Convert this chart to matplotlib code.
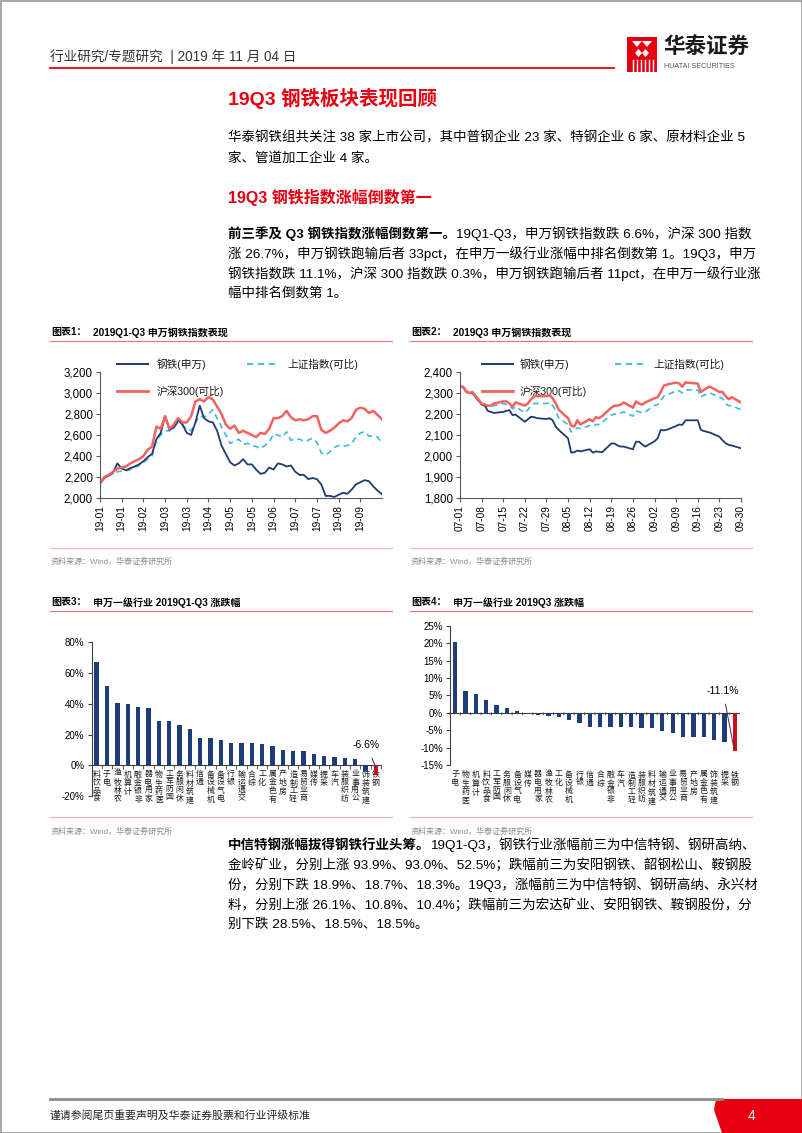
import datetime as dt
import numpy as np
import matplotlib
matplotlib.use('Agg')
import matplotlib.pyplot as plt
from matplotlib.patches import Rectangle, Polygon
from matplotlib.lines import Line2D

# ---------------- data ----------------
# Chart 1: 2019Q1-Q3 index performance (sampled every ~3 trading days)
c1_ticklabels = ['19-01', '19-01', '19-02', '19-03', '19-03', '19-04', '19-05',
                 '19-05', '19-06', '19-07', '19-07', '19-08', '19-09']
c1_steel = [2140, 2190, 2215, 2240, 2330, 2280, 2265, 2285, 2300, 2320, 2350, 2390, 2420,
            2560, 2620, 2780, 2650, 2670, 2740, 2700, 2620, 2600, 2720, 2880, 2760, 2730,
            2720, 2640, 2500, 2420, 2340, 2310, 2330, 2370, 2320, 2320, 2270, 2230, 2240,
            2290, 2270, 2330, 2320, 2300, 2310, 2250, 2220, 2220, 2180, 2190, 2180, 2130,
            2020, 2020, 2010, 2030, 2050, 2040, 2080, 2130, 2150, 2170, 2160, 2110, 2070, 2035]
c1_sh = [2140, 2190, 2210, 2230, 2250, 2255, 2260, 2270, 2290, 2310, 2340, 2370, 2400,
         2550, 2600, 2640, 2640, 2670, 2720, 2700, 2650, 2640, 2720, 2780, 2770, 2800,
         2840, 2760, 2680, 2600, 2520, 2540, 2560, 2510, 2520, 2500, 2490, 2470, 2500,
         2530, 2610, 2600, 2580, 2630, 2550, 2560, 2560, 2540, 2550, 2570, 2530, 2430,
         2410, 2440, 2480, 2500, 2490, 2500, 2520, 2580, 2620, 2630, 2590, 2590, 2580, 2520]
c1_hs = [2140, 2200, 2220, 2250, 2280, 2290, 2300, 2330, 2350, 2370, 2400, 2460, 2490,
         2680, 2660, 2780, 2660, 2700, 2760, 2720, 2720, 2780, 2920, 2940, 2920, 2960,
         2940, 2870, 2800, 2700, 2660, 2690, 2620, 2640, 2620, 2600, 2580, 2620, 2610,
         2660, 2760, 2760, 2780, 2830, 2770, 2740, 2750, 2740, 2750, 2780, 2780, 2650,
         2620, 2640, 2670, 2710, 2740, 2730, 2760, 2840, 2860, 2850, 2810, 2830, 2790, 2750]

# Chart 2: 2019Q3 daily
q3_dates = ['07-01', '07-02', '07-03', '07-04', '07-05', '07-08', '07-09', '07-10', '07-11',
            '07-12', '07-15', '07-16', '07-17', '07-18', '07-19', '07-22', '07-23', '07-24',
            '07-25', '07-26', '07-29', '07-30', '07-31', '08-01', '08-02', '08-05', '08-06',
            '08-07', '08-08', '08-09', '08-12', '08-13', '08-14', '08-15', '08-16', '08-19',
            '08-20', '08-21', '08-22', '08-23', '08-26', '08-27', '08-28', '08-29', '08-30',
            '09-02', '09-03', '09-04', '09-05', '09-06', '09-09', '09-10', '09-11', '09-12',
            '09-16', '09-17', '09-18', '09-19', '09-20', '09-23', '09-24', '09-25', '09-26',
            '09-27', '09-30']
c2_steel = [2330, 2330, 2310, 2300, 2300, 2245, 2240, 2215, 2210, 2205, 2210, 2215, 2218,
            2195, 2197, 2163, 2175, 2187, 2185, 2180, 2176, 2180, 2170,
            2140, 2124, 2084, 2016, 2018, 2026, 2022, 2032, 2016, 2022, 2020, 2018, 2059,
            2060, 2050, 2045, 2045, 2032, 2068, 2068, 2055, 2045,
            2070, 2084, 2124, 2122, 2125, 2143, 2150, 2148, 2170, 2170, 2124, 2119, 2115,
            2111, 2092, 2075, 2061, 2053, 2050, 2037]
c2_sh = [2330, 2325, 2305, 2300, 2300, 2245, 2240, 2235, 2235, 2240, 2250, 2245, 2240,
         2225, 2235, 2205, 2220, 2240, 2250, 2250, 2250, 2255, 2240,
         2215, 2180, 2150, 2115, 2120, 2135, 2130, 2145, 2140, 2150, 2150, 2160, 2195,
         2200, 2200, 2205, 2210, 2190, 2215, 2210, 2205, 2210,
         2240, 2245, 2265, 2285, 2290, 2310, 2310, 2300, 2315, 2315, 2280, 2290, 2295,
         2300, 2280, 2275, 2250, 2240, 2240, 2220]
c2_hs = [2330, 2330, 2305, 2300, 2305, 2250, 2245, 2240, 2240, 2250, 2260, 2260, 2250,
         2235, 2255, 2240, 2250, 2270, 2285, 2285, 2285, 2290, 2275,
         2250, 2220, 2180, 2145, 2140, 2170, 2150, 2175, 2165, 2185, 2180, 2190, 2230,
         2240, 2240, 2245, 2255, 2230, 2260, 2250, 2245, 2255,
         2275, 2280, 2305, 2335, 2340, 2350, 2345, 2330, 2350, 2345, 2305, 2315, 2325,
         2330, 2305, 2305, 2285, 2270, 2280, 2255]
c2_ticklabels = ['07-01', '07-08', '07-15', '07-22', '07-29', '08-05', '08-12', '08-19',
                 '08-26', '09-02', '09-09', '09-16', '09-23', '09-30']

# Chart 3: 2019Q1-Q3 industry change (%)
cat3 = ['食品饮料', '电子', '农林牧渔', '计算机', '非银金融', '家用电器', '医药生物', '国防军工',
        '休闲服务', '建筑材料', '通信', '机械设备', '电气设备', '银行', '交通运输', '综合', '化工',
        '有色金属', '房地产', '轻工制造', '商业贸易', '传媒', '采掘', '汽车', '纺织服装', '公用事业',
        '建筑装饰', '钢铁']
val3 = [67.2, 51.5, 40.7, 40.0, 38.0, 37.2, 29.1, 28.5, 26.1, 23.7, 18.0, 17.6, 16.3, 14.6,
        14.6, 14.3, 13.9, 12.4, 10.2, 9.3, 9.1, 7.4, 6.1, 5.4, 4.6, 4.3, -3.5, -6.6]

# Chart 4: 2019Q3 industry change (%)
cat4 = ['电子', '医药生物', '计算机', '食品饮料', '国防军工', '休闲服务', '电气设备', '传媒',
        '家用电器', '农林牧渔', '化工', '机械设备', '银行', '通信', '综合', '非银金融', '汽车',
        '轻工制造', '纺织服装', '建筑材料', '交通运输', '公用事业', '商业贸易', '房地产', '有色金属',
        '建筑装饰', '采掘', '钢铁']
val4 = [20.2, 6.3, 5.3, 3.6, 2.1, 1.5, 0.5, -0.2, -0.5, -1.0, -1.3, -2.1, -3.0, -4.0, -4.1,
        -4.1, -4.1, -4.2, -4.3, -4.5, -5.2, -5.9, -6.9, -7.0, -7.1, -7.7, -8.3, -11.1]

# ---------------- styling ----------------
W, H = 802, 1133
FAM = ['Liberation Sans', 'Noto Sans CJK SC']
plt.rcParams['font.family'] = FAM
plt.rcParams['axes.unicode_minus'] = False
RED = '#E60012'
NAVY = '#1F3A73'
CYAN = '#3DB7E4'
SALMON = '#F2625E'
BARBLUE = '#1E3C7C'
BARRED = '#C8101E'
AXC = '#595959'
BODY = 9.7

fig = plt.figure(figsize=(W / 100, H / 100), dpi=100)
page = fig.add_axes([0, 0, 1, 1], zorder=0)
page.set_xlim(0, W)
page.set_ylim(H, 0)
page.axis('off')
renderer = fig.canvas.get_renderer()


def axes_px(x0, y0, x1, y1):
    a = fig.add_axes([x0 / W, 1 - y1 / H, (x1 - x0) / W, (y1 - y0) / H], zorder=2)
    a.patch.set_alpha(0)
    return a


def runs(x, y, parts, size=BODY, color='black'):
    for txt, bold in parts:
        t = page.text(x, y, txt, fontsize=size, fontweight='bold' if bold else 'normal',
                      ha='left', va='center', color=color, family=FAM)
        x += t.get_window_extent(renderer=renderer).width


def vert(s):
    return '\n'.join(reversed(s))


# ---------------- page frame / header ----------------
page.add_patch(Rectangle((0.5, 0.5), W - 1, H - 1, fill=False, ec='#9A9A9A', lw=1.2))
page.text(50, 57, '行业研究/专题研究  | 2019 年 11 月 04 日', fontsize=9.8, ha='left', va='center',
          color='#333333')
page.plot([50, 614], [67.5, 67.5], color=RED, lw=1.3)
# logo
page.add_patch(Rectangle((627, 37), 30, 35, color=RED, lw=0))
page.add_patch(Polygon([[632, 41], [637, 47], [642, 41]], closed=True, color='white', lw=0))
page.add_patch(Polygon([[642, 41], [647, 47], [652, 41]], closed=True, color='white', lw=0))
page.add_patch(Polygon([[635, 53], [638.5, 49], [642, 53], [638.5, 57]], closed=True, color='white', lw=0))
page.add_patch(Polygon([[642, 53], [645.5, 49], [649, 53], [645.5, 57]], closed=True, color='white', lw=0))
for xs in [633, 637, 641, 645, 649, 653]:
    page.plot([xs, xs], [60, 72], color='white', lw=1.0)
page.text(663, 47, '华泰证券', fontsize=15.5, fontweight='bold', ha='left', va='center',
          color='#1A1A1A')
page.text(664, 66, 'HUATAI SECURITIES', fontsize=5.2, ha='left', va='center', color='#555555')

# ---------------- body text ----------------
page.text(228, 98, '19Q3 钢铁板块表现回顾', fontsize=14, fontweight='bold', color=RED,
          ha='left', va='center')
runs(228, 138, [('华泰钢铁组共关注 38 家上市公司，其中普钢企业 23 家、特钢企业 6 家、原材料企业 5', False)])
runs(228, 158, [('家、管道加工企业 4 家。', False)])
page.text(228, 197, '19Q3 钢铁指数涨幅倒数第一', fontsize=11.5, fontweight='bold', color=RED,
          ha='left', va='center')
runs(228, 234, [('前三季及 Q3 钢铁指数涨幅倒数第一。', True),
                ('19Q1-Q3，申万钢铁指数跌 6.6%，沪深 300 指数', False)])
runs(228, 254, [('涨 26.7%，申万钢铁跑输后者 33pct，在申万一级行业涨幅中排名倒数第 1。19Q3，申万', False)])
runs(228, 274, [('钢铁指数跌 11.1%，沪深 300 指数跌 0.3%，申万钢铁跑输后者 11pct，在申万一级行业涨', False)])
runs(228, 293, [('幅中排名倒数第 1。', False)])

p3y = [845, 865, 885, 905, 925]
runs(228, p3y[0], [('中信特钢涨幅拔得钢铁行业头筹。', True),
                   ('19Q1-Q3，钢铁行业涨幅前三为中信特钢、钢研高纳、', False)])
runs(228, p3y[1], [('金岭矿业，分别上涨 93.9%、93.0%、52.5%；跌幅前三为安阳钢铁、韶钢松山、鞍钢股', False)])
runs(228, p3y[2], [('份，分别下跌 18.9%、18.7%、18.3%。19Q3，涨幅前三为中信特钢、钢研高纳、永兴材', False)])
runs(228, p3y[3], [('料，分别上涨 26.1%、10.8%、10.4%；跌幅前三为宏达矿业、安阳钢铁、鞍钢股份，分', False)])
runs(228, p3y[4], [('别下跌 28.5%、18.5%、18.5%。', False)])

# ---------------- chart frames ----------------
def chart_frame(x0, x1, ytitle, num, title, ybottom, ysource):
    page.text(x0 + 1, ytitle, f'图表{num}：', fontsize=7.2, fontweight='bold', ha='left', va='center')
    page.text(x0 + 43, ytitle, title, fontsize=7.2, fontweight='bold', ha='left', va='center')
    page.plot([x0, x1], [ytitle + 8, ytitle + 8], color='#E57373', lw=0.8)
    page.plot([x0, x1], [ybottom, ybottom], color='#F3B5B5', lw=0.8)
    page.text(x0 + 1, ysource, '资料来源：Wind，华泰证券研究所', fontsize=5.8, color='#8C8C8C',
              ha='left', va='center')


chart_frame(50, 392, 332.5, 1, '2019Q1-Q3 申万钢铁指数表现', 548, 562)
chart_frame(410, 752, 332.5, 2, '2019Q3 申万钢铁指数表现', 548, 562)
chart_frame(50, 392, 602.5, 3, '申万一级行业 2019Q1-Q3 涨跌幅', 817, 832)
chart_frame(410, 752, 602.5, 4, '申万一级行业 2019Q3 涨跌幅', 817, 832)

# ---------------- footer ----------------
page.plot([50, 722], [1099, 1099], color='#8C8C8C', lw=2.0)
page.add_patch(Polygon([[716, 1099], [802, 1099], [802, 1133], [722, 1133], [714, 1110]],
                       closed=True, color=RED, lw=0))
page.text(50, 1115, '谨请参阅尾页重要声明及华泰证券股票和行业评级标准', fontsize=7.8, ha='left',
          va='center', color='#222222')
page.text(751, 1116, '4', fontsize=10, color='white', ha='center', va='center')


# ---------------- line charts ----------------
def style_line_axes(ax):
    for s in ['top', 'right']:
        ax.spines[s].set_visible(False)
    for s in ['left', 'bottom']:
        ax.spines[s].set_color(AXC)
        ax.spines[s].set_linewidth(0.8)
    ax.tick_params(axis='y', labelsize=8.3, length=3, color=AXC, pad=2)
    ax.tick_params(axis='x', labelsize=7.3, length=3, color=AXC, pad=2, labelrotation=90)
    ax.yaxis.set_major_formatter(matplotlib.ticker.FuncFormatter(lambda v, p: f'{int(v):,}'))


def legend_px(x_line, x_text, x_line2, x_text2, names):
    items = [(x_line, 364, names[0], NAVY, '-', 1.4),
             (x_line2, 364, names[1], CYAN, (0, (3.5, 2.5)), 1.3),
             (x_line, 391, names[2], SALMON, '-', 2.0)]
    for (xl, yy, nm, col, ls, lw), xt in zip(items, [x_text, x_text2, x_text]):
        page.add_line(Line2D([xl, xl + 31], [yy, yy], color=col, ls=ls, lw=lw))
        page.text(xt, yy, nm, fontsize=7.7, ha='left', va='center', color='#1A1A1A')


ax1 = axes_px(100, 372, 382, 498)
x1 = np.arange(len(c1_steel))
ax1.plot(x1, c1_sh, color=CYAN, lw=1.2, ls=(0, (3.5, 2.5)))
ax1.plot(x1, c1_steel, color=NAVY, lw=1.3)
ax1.plot(x1, c1_hs, color=SALMON, lw=1.8)
ax1.set_xlim(0, len(c1_steel) - 1)
ax1.set_ylim(2000, 3200)
ax1.set_yticks(range(2000, 3201, 200))
ax1.set_xticks(range(0, 5 * len(c1_ticklabels), 5))
ax1.set_xticklabels(c1_ticklabels)
style_line_axes(ax1)
legend_px(117, 157, 247, 287, ['钢铁(申万)', '上证指数(可比)', '沪深300(可比)'])

start = dt.date(2019, 7, 1)


def day(s):
    m, d = s.split('-')
    return (dt.date(2019, int(m), int(d)) - start).days


x2 = [day(s) for s in q3_dates]
ax2 = axes_px(460, 372, 741, 498)
ax2.plot(x2, c2_sh, color=CYAN, lw=1.2, ls=(0, (3.5, 2.5)))
ax2.plot(x2, c2_steel, color=NAVY, lw=1.3)
ax2.plot(x2, c2_hs, color=SALMON, lw=1.8)
ax2.set_xlim(0, day(c2_ticklabels[-1]))
ax2.set_ylim(1800, 2400)
ax2.set_yticks(range(1800, 2401, 100))
ax2.set_xticks([day(s) for s in c2_ticklabels])
ax2.set_xticklabels(c2_ticklabels)
style_line_axes(ax2)
legend_px(482, 520, 615, 653, ['钢铁(申万)', '上证指数(可比)', '沪深300(可比)'])


# ---------------- bar charts ----------------
def style_bar_axes(ax):
    for s in ['top', 'right']:
        ax.spines[s].set_visible(False)
    for s in ['left', 'bottom']:
        ax.spines[s].set_color('#404040')
        ax.spines[s].set_linewidth(0.8)
    ax.tick_params(axis='y', labelsize=7.0, length=3, color='#404040', pad=2)
    ax.yaxis.set_major_formatter(matplotlib.ticker.FuncFormatter(lambda v, p: f'{int(v)}%'))


LBL = 5.7
LSP = 1.12

ax3 = axes_px(91.5, 642.3, 381, 796)
pos3 = np.arange(len(cat3))
cols3 = [BARBLUE] * (len(cat3) - 1) + [BARRED]
ax3.bar(pos3, val3, width=0.42, color=cols3, zorder=3)
ax3.set_xlim(-0.5, len(cat3) - 0.5)
ax3.set_ylim(-20, 80)
ax3.set_yticks(range(-20, 81, 20))
style_bar_axes(ax3)
ax3.spines['bottom'].set_position(('data', 0))
ax3.set_xticks(pos3)
ax3.set_xticklabels([vert(c) for c in cat3], fontsize=LBL, linespacing=LSP, color='#1A1A1A')
ax3.tick_params(axis='x', which='major', length=0, pad=4)
ax3.set_xticks(np.arange(-0.5, len(cat3), 1), minor=True)
ax3.tick_params(axis='x', which='minor', length=3, color='#404040', direction='out')
ax3.annotate(f'{val3[-1]:.1f}%', xy=(len(cat3) - 1, -1.5), xytext=(len(cat3) - 1.9, 13),
             fontsize=7.5, ha='center', va='center',
             arrowprops=dict(arrowstyle='-', color='#333333', lw=0.7, shrinkA=4, shrinkB=0))

ax4 = axes_px(450, 625.7, 740, 765)
pos4 = np.arange(len(cat4))
cols4 = [BARBLUE] * (len(cat4) - 1) + [BARRED]
ax4.bar(pos4, val4, width=0.42, color=cols4, zorder=3)
ax4.set_xlim(-0.5, len(cat4) - 0.5)
ax4.set_ylim(-15, 25)
ax4.set_yticks(range(-15, 26, 5))
style_bar_axes(ax4)
ax4.spines['bottom'].set_visible(False)
ax4.axhline(0, color='#404040', lw=0.8, zorder=2)
ax4.tick_params(axis='x', length=0, labelbottom=False)
ax4.set_xticks([])
for i, c in enumerate(cat4):
    ax4.annotate(vert(c), xy=(i, 0), xycoords=('data', 'axes fraction'), xytext=(0, -4.5),
                 textcoords='offset points', ha='center', va='top', fontsize=LBL,
                 linespacing=LSP, color='#1A1A1A', annotation_clip=False)
    ax4.annotate('', xy=(i - 0.5, 0), xytext=(i - 0.5, -0.6),
                 arrowprops=dict(arrowstyle='-', color='#404040', lw=0.7, shrinkA=0, shrinkB=0))
ax4.annotate(f'{val4[-1]:.1f}%', xy=(len(cat4) - 1.1, -10), xytext=(len(cat4) - 2.15, 6.3),
             fontsize=7.5, ha='center', va='center',
             arrowprops=dict(arrowstyle='-', color='#333333', lw=0.7, shrinkA=4, shrinkB=0))

fig.savefig('out.png', dpi=100)
